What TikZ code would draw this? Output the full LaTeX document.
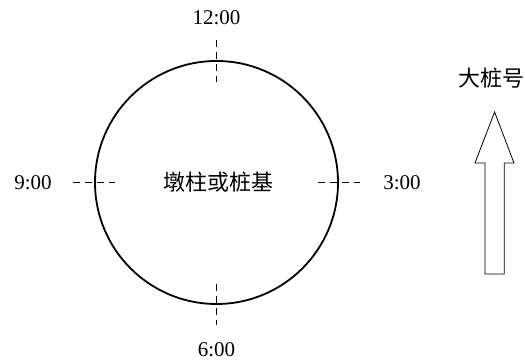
\documentclass[tikz,border=0pt]{standalone}
\usepackage{fontspec}
\setmainfont{Liberation Serif}
\newfontfamily\cjk{Noto Sans CJK SC}
\begin{document}
\begin{tikzpicture}[x=1pt,y=1pt,
  lbl/.style={font=\fontsize{21}{24}\selectfont, inner sep=0pt},
  cjklbl/.style={font=\cjk\fontsize{22}{25}\selectfont, inner sep=0pt},
  axisdash/.style={line width=0.8pt, dash pattern=on 7pt off 5pt},
  pier/.style={circle, draw, line width=1.8pt, minimum size=243pt, inner sep=0pt},
  bigarrow/.style={draw, line width=0.8pt}]
\useasboundingbox (0,0) rectangle (525,363);
\node[pier] (c) at (216.5,180.5) {};
\node[cjklbl] (ct) at (218.5,180.5) {墩柱或桩基};
\node[lbl] (n12) at (216.5,345) {12:00};
\node[lbl] (n6) at (216.5,13) {6:00};
\node[lbl] (n9) at (33,180) {9:00};
\node[lbl] (n3) at (402,180) {3:00};
\node[cjklbl] (big) at (491,285) {大桩号};
\coordinate (t1) at (216.5,323); \coordinate (t2) at (216.5,281);
\coordinate (b1) at (216.5,79); \coordinate (b2) at (216.5,38);
\coordinate (l1) at (73,180.5); \coordinate (l2) at (115,180.5);
\coordinate (r1) at (318,180.5); \coordinate (r2) at (360,180.5);
\draw[axisdash] (t1) -- (t2);
\draw[axisdash] (b1) -- (b2);
\draw[axisdash] (l1) -- (l2);
\draw[axisdash] (r1) -- (r2);
\draw[bigarrow] (494.6,251) -- (514,200) -- (504.3,200) -- (504.3,89) -- (485,89) -- (485,200) -- (475,200) -- cycle;
\end{tikzpicture}
\end{document}
